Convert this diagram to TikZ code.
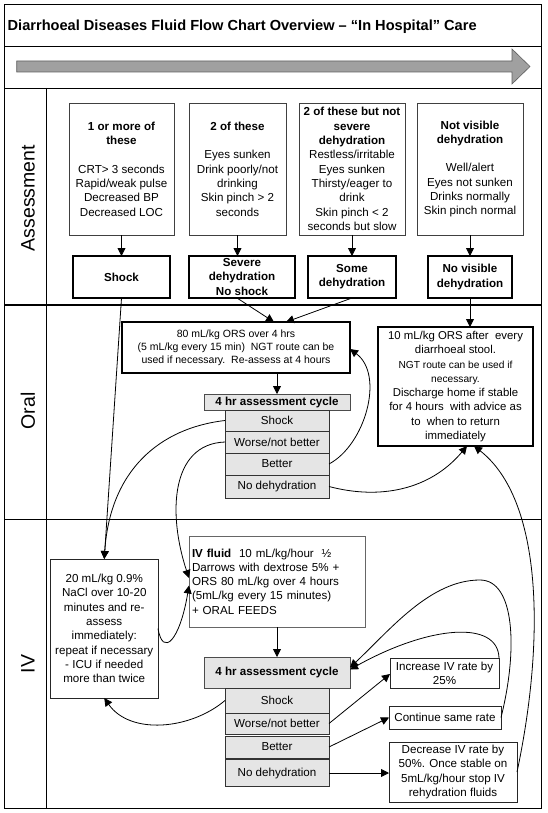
\documentclass[tikz,border=0pt]{standalone}
\usepackage{fontspec}
\setmainfont{Liberation Sans}
\usetikzlibrary{arrows.meta}
\definecolor{cyc}{RGB}{229,229,229}
\definecolor{bigarrow}{RGB}{160,160,160}
\definecolor{bigarrowline}{RGB}{95,95,95}
\begin{document}
\begin{tikzpicture}[x=1pt,y=-1pt,
  every node/.style={inner sep=0pt, outer sep=0pt},
  fnt/.style={font=\fontsize{11.6}{14.3}\selectfont},
  fntb/.style={font=\fontsize{11.6}{14.3}\selectfont\bfseries},
  abox/.style={draw=black!75, line width=0.8pt, fnt, align=center, minimum height=132pt},
  rbox/.style={draw=black, line width=1.1pt, fntb, align=center, minimum height=42pt},
  thick box/.style={draw=black, line width=2pt, align=center},
  cycrow/.style={draw=black!80, line width=0.8pt, fill=cyc, fnt, align=center, minimum width=104pt},
  cychead/.style={draw=black!70, line width=0.8pt, fill=cyc, fntb, align=center, minimum width=146pt},
  plainbox/.style={draw=black!85, line width=0.8pt, fnt, align=center},
  lbl/.style={rotate=90, font=\fontsize{19.5}{22}\selectfont},
  conn/.style={line width=0.8pt, -{Triangle[length=8pt,width=8pt]}},
]
\useasboundingbox (0,0) rectangle (548,813);

% frame
\draw[line width=0.9pt] (4.5,4.5) rectangle (541,808);
\draw[line width=0.9pt] (4.5,46) -- (541,46);
\draw[line width=0.9pt] (4.5,88) -- (541,88);
\draw[line width=0.9pt] (46.4,88) -- (46.4,808);
\draw[line width=2pt] (4.5,305) -- (541,305);
\draw[line width=0.9pt] (4.5,519) -- (541,519);

% title and big arrow
\node[anchor=base west, font=\fontsize{14.6}{17}\selectfont\bfseries] (title) at (7.7,30.5) {Diarrhoeal Diseases Fluid Flow Chart Overview – “In Hospital” Care};
\draw[fill=bigarrow, draw=bigarrowline, line width=0.6pt] (16.7,61) -- (512,61) -- (512,49) -- (530,66.5) -- (512,84) -- (512,72) -- (16.7,72) -- cycle;

% side labels
\node[lbl] (lassess) at (28,198) {Assessment};
\node[lbl] (loral) at (28,411) {Oral};
\node[lbl] (liv) at (28,664) {IV};

% assessment boxes
\node[abox, minimum width=105pt] (a1) at (121.5,169) {\textbf{1 or more of}\\\textbf{these}\\[14.3pt]CRT> 3 seconds\\Rapid/weak pulse\\Decreased BP\\Decreased LOC};
\node[abox, minimum width=97pt] (a2) at (237.5,169) {\textbf{2 of these}\\[14.3pt]Eyes sunken\\Drink poorly/not\\drinking\\Skin pinch > 2\\seconds};
\node[abox, minimum width=106pt] (a3) at (352,169) {\textbf{2 of these but not}\\\textbf{severe}\\\textbf{dehydration}\\Restless/irritable\\Eyes sunken\\Thirsty/eager to\\drink\\Skin pinch < 2\\seconds but slow};
\node[abox, minimum width=106pt] (a4) at (470,169) {\textbf{Not visible}\\\textbf{dehydration}\\[14.3pt]Well/alert\\Eyes not sunken\\Drinks normally\\Skin pinch normal};

\node[rbox, minimum width=97pt] (r1) at (121.5,277) {Shock};
\node[rbox, minimum width=106pt] (r2) at (242,277) {Severe\\dehydration\\No shock};
\node[rbox, minimum width=88pt] (r3) at (352,277) {Some\\dehydration};
\node[rbox, minimum width=84pt] (r4) at (470,277) {No visible\\dehydration};

\draw[conn] (a1.south) -- (r1.north);
\draw[conn] (a2.south) -- (a2.south |- r2.north);
\draw[conn] (a3.south) -- (r3.north);
\draw[conn] (a4.south) -- (r4.north);

% oral
\node[thick box, minimum width=228pt, minimum height=51pt, font=\fontsize{10.5}{13}\selectfont] (ors) at (236,347.5) {80 mL/kg ORS over 4 hrs\\(5 mL/kg every 15 min)\ \ NGT route can be\\used if necessary.\ \ Re-assess at 4 hours};
\node[thick box, minimum width=155pt, minimum height=119pt, font=\fontsize{11.4}{14.3}\selectfont] (ten) at (455.5,386.5) {10 mL/kg ORS after\ \ every\\diarrhoeal stool.\\{\fontsize{10.2}{14.3}\selectfont NGT route can be used if}\\{\fontsize{10.2}{14.3}\selectfont necessary.}\\Discharge home if stable\\for 4 hours\ \ with advice as\\to\ \ when to return\\immediately};

\node[cychead, minimum height=16pt] (h1) at (277,402) {4 hr assessment cycle};
\node[cycrow, minimum height=21pt] (o1) at (277,420.5) {Shock};
\node[cycrow, minimum height=22pt] (o2) at (277,442) {Worse/not better};
\node[cycrow, minimum height=22pt] (o3) at (277,464) {Better};
\node[cycrow, minimum height=23pt] (o4) at (277,486.5) {No dehydration};

% IV
\node[plainbox, minimum width=107.5pt, minimum height=139pt] (nacl) at (104.25,628.5) {20 mL/kg 0.9\%\\NaCl over 10-20\\minutes and re-\\assess\\immediately:\\repeat if necessary\\- ICU if needed\\more than twice};
\node[draw=black!60, line width=0.8pt, fnt, align=left, text width=170pt, inner xsep=3pt, minimum height=91pt] (ivf) at (277,581.5) {\textbf{IV fluid}\ \ 10 mL/kg/hour\ \ ½\\Darrows with dextrose 5\% +\\ORS 80 mL/kg over 4 hours\\(5mL/kg every 15 minutes)\\+ ORAL FEEDS};

\node[cychead, minimum height=31pt] (h2) at (277,672.5) {4 hr assessment cycle};
\node[cycrow, minimum height=25pt] (i1) at (277,700.5) {Shock};
\node[cycrow, minimum height=21pt] (i2) at (277,723.5) {Worse/not better};
\node[cycrow, minimum height=22pt] (i3) at (277,747) {Better};
\node[cycrow, minimum height=27pt] (i4) at (277,773) {No dehydration};

\node[plainbox, minimum width=109pt, minimum height=30pt] (inc) at (444.5,673) {Increase IV rate by\\25\%};
\node[plainbox, minimum width=112pt, minimum height=23pt] (cont) at (445,717.5) {Continue same rate};
\node[plainbox, minimum width=128pt, minimum height=60pt] (dec) at (453,772) {Decrease IV rate by\\50\%. Once stable on\\5mL/kg/hour stop IV\\rehydration fluids};

% connectors
\draw[conn] (r1.south) -- (nacl.north);
\draw[conn] ([xshift=-5pt]r2.south) -- ([xshift=38pt]ors.north);
\draw[conn] (r3.south) -- ([xshift=50pt]ors.north);
\draw[conn] (r4.south) -- (r4.south |- ten.north);
\draw[conn] (h1.north |- ors.south) -- (h1.north);

\draw[conn] (o1.west) .. controls (160,428) and (110,470) .. (nacl.north);
\draw[conn] (o2.west) .. controls (170,444) and (168,515) .. ([yshift=3.5pt]ivf.west);
\draw[conn] (o3.east) .. controls (365,445) and (385,375) .. ([yshift=-1.5pt]ors.east);
\draw[conn] (o4.east) .. controls (380,500) and (430,490) .. ([xshift=11.5pt]ten.south);
\draw[conn] (dec.east) .. controls (545,640) and (543,500) .. ([xshift=18.5pt]ten.south);

\draw[conn] (ivf.south) -- (h2.north);
\draw[conn] (nacl.east) .. controls (163,658) and (180,640) .. ([yshift=-4pt]ivf.west);
\draw[conn] (i1.west) .. controls (190,730) and (130,735) .. (nacl.south);
\draw[conn] (i2.east) -- ([yshift=-1pt]inc.west);
\draw[conn] (i3.east) -- (cont.west);
\draw[conn] (i4.east) -- (i4.east -| dec.west);
\draw[conn] (inc.north east) .. controls (498,620) and (430,625) .. ([yshift=3pt]h2.east);
\draw[conn] (cont.east) .. controls (518,650) and (515,580) .. (480,580) .. controls (430,580) and (390,630) .. ([yshift=5pt]h2.east);
\end{tikzpicture}
\end{document}
